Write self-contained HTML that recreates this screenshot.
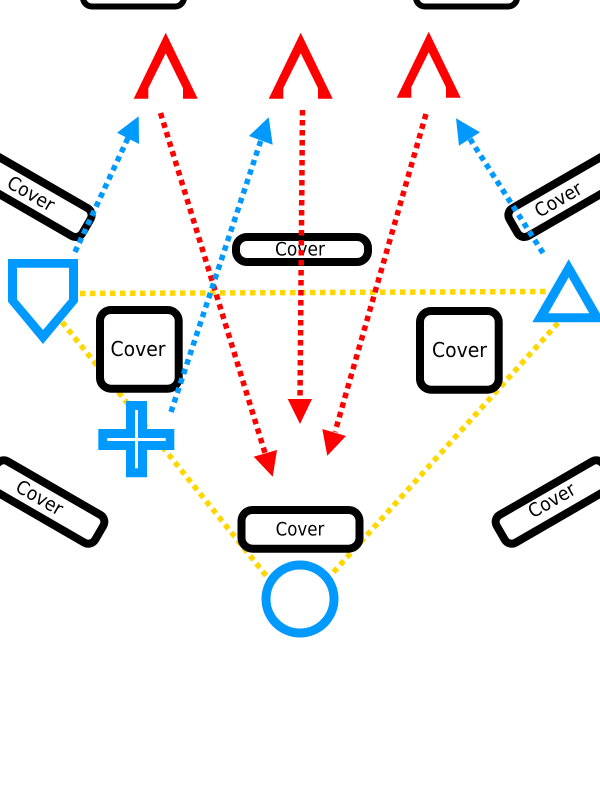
<!DOCTYPE html>
<html>
<head>
<meta charset="utf-8">
<style>
html,body{margin:0;padding:0;background:#fff;width:600px;height:800px;overflow:hidden}
svg{display:block}
text{font-family:"DejaVu Sans",sans-serif;fill:#000;text-anchor:middle;dominant-baseline:central}
.n{fill:#fff;stroke:#000}
.d{fill:none;stroke-width:5.5;stroke-dasharray:5.5 4.5}
</style>
</head>
<body>
<svg width="600" height="800" viewBox="0 0 600 800" xmlns="http://www.w3.org/2000/svg">
<g class="d" style="fill:none;stroke:#ffd700">
<line x1="80" y1="293.5" x2="548" y2="291.5"/>
<line x1="62" y1="322" x2="268" y2="578"/>
<line x1="558" y1="323" x2="331" y2="575"/>
</g>

<rect class="n" stroke-width="6" x="83" y="-30" width="101" height="36.5" rx="9"/>
<rect class="n" stroke-width="6" x="416" y="-30" width="101" height="36.5" rx="9"/>

<rect class="n" stroke-width="8" x="-61.5" y="-16" width="123" height="32" rx="8" transform="translate(33.3 195.3) rotate(30)"/>
<text x="0" y="0" font-size="19" textLength="51" lengthAdjust="spacingAndGlyphs" transform="translate(30.7 194) rotate(30)">Cover</text>
<rect class="n" stroke-width="8" x="-61.5" y="-16" width="123" height="32" rx="8" transform="translate(566.7 195.3) rotate(-30)"/>
<text x="0" y="0" font-size="19" textLength="51" lengthAdjust="spacingAndGlyphs" transform="translate(558.5 200) rotate(-30)">Cover</text>
<rect class="n" stroke-width="8" x="-61.5" y="-16" width="123" height="32" rx="8" transform="translate(46 502) rotate(30)"/>
<text x="0" y="0" font-size="19" textLength="51" lengthAdjust="spacingAndGlyphs" transform="translate(39.3 498) rotate(30)">Cover</text>
<rect class="n" stroke-width="8" x="-61.5" y="-16" width="123" height="32" rx="8" transform="translate(554 502) rotate(-30)"/>
<text x="0" y="0" font-size="19" textLength="51" lengthAdjust="spacingAndGlyphs" transform="translate(552 500.7) rotate(-30)">Cover</text>

<rect class="n" stroke-width="8" x="236" y="237" width="132" height="25" rx="11"/>
<text x="300" y="250" font-size="18.7" textLength="50" lengthAdjust="spacingAndGlyphs">Cover</text>
<rect class="n" stroke-width="8" x="100" y="310" width="78.7" height="78.7" rx="11"/>
<text x="138" y="349" font-size="20.5" textLength="55" lengthAdjust="spacingAndGlyphs">Cover</text>
<rect class="n" stroke-width="8" x="420" y="311" width="78.7" height="78.7" rx="11"/>
<text x="459.5" y="350" font-size="20.5" textLength="55" lengthAdjust="spacingAndGlyphs">Cover</text>
<rect class="n" stroke-width="8" x="241.5" y="510" width="118" height="38.7" rx="11"/>
<text x="300" y="530" font-size="18.3" textLength="48.7" lengthAdjust="spacingAndGlyphs">Cover</text>

<g fill="#ff0000">
<polygon points="133.7,98.7 148.3,98.7 148.3,88.3 165.7,53.3 183,88.3 183,98.7 197.7,98.7 165.7,32.7"/>
<polygon points="268.7,98.7 283.3,98.7 283.3,88.3 300.7,53.3 318,88.3 318,98.7 332.7,98.7 300.7,32.7"/>
<polygon points="396.7,97.7 411.3,97.7 411.3,87.3 428.7,52.3 446,87.3 446,97.7 460.7,97.7 428.7,31.7"/>
</g>

<path fill="#0099ff" fill-rule="evenodd" d="M8 259H78V301.7L43 344L8 301.7ZM17 267.7V299.3L43 330L69 299.3V267.7Z"/>
<path fill="#0099ff" fill-rule="evenodd" d="M568.7 259.3L605 322.3H532.3ZM568.7 277.3L548.3 313.3H589.3Z"/>
<circle cx="300" cy="599" r="34" fill="#fff" stroke="#0099ff" stroke-width="9"/>
<path fill="#0099ff" d="M126 401H147V429H174.3V450H147V477.3H126V450H98.3V429H126Z"/>
<path fill="#fff" d="M135 410H138V438H165.7V441H138V468.3H135V441H107.3V438H135Z"/>

<g class="d" style="stroke:#ff0000">
<line x1="160.5" y1="113" x2="265" y2="453"/>
<line x1="302.5" y1="110" x2="300" y2="400"/>
<line x1="426" y1="114" x2="335" y2="432"/>
</g>
<g fill="#ff0000">
<polygon points="253.7,456.7 277,450 272.7,476.7"/>
<polygon points="287.7,399 312,399 300,424"/>
<polygon points="322.3,429 346,436 327.3,455.7"/>
</g>

<g class="d" style="stroke:#0099ff">
<line x1="75" y1="252" x2="128" y2="138"/>
<line x1="171" y1="412" x2="261" y2="140"/>
<line x1="543" y1="253" x2="470" y2="139"/>
</g>
<g fill="#0099ff">
<polygon points="117,132.7 138.7,116.3 139,144"/>
<polygon points="249,136 268.7,117.3 272.7,144.7"/>
<polygon points="456,118.3 480,132.3 459,145.7"/>
</g>
</svg>
</body>
</html>
